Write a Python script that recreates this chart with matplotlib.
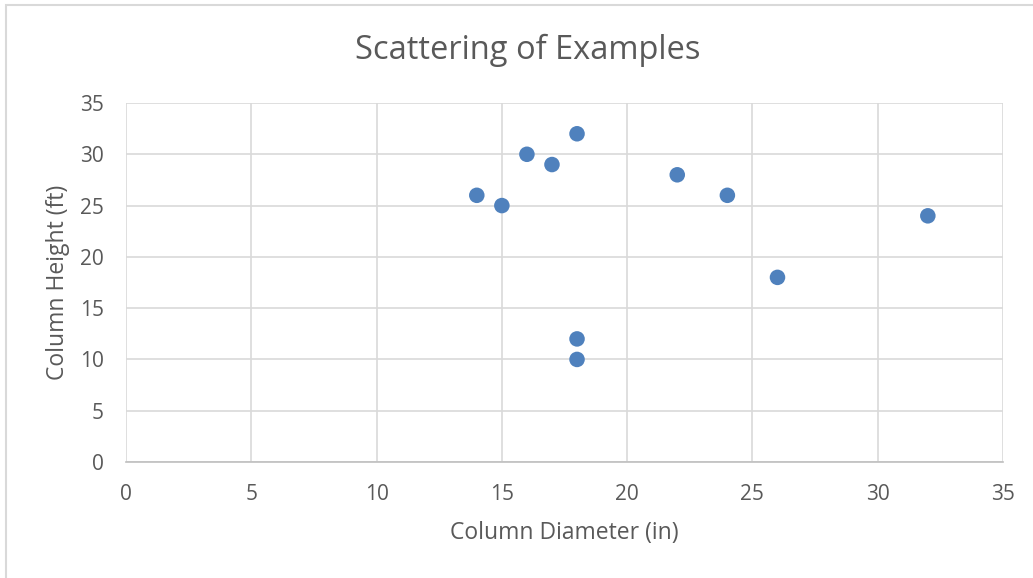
import matplotlib.pyplot as plt
from matplotlib.patches import Rectangle

diameter_in = [14, 15, 16, 17, 18, 18, 18, 22, 24, 26, 32]
height_ft = [26, 25, 30, 29, 32, 12, 10, 28, 26, 18, 24]
x_ticks = [0, 5, 10, 15, 20, 25, 30, 35]
y_ticks = [0, 5, 10, 15, 20, 25, 30, 35]

plt.rcParams['font.family'] = ['Open Sans', 'DejaVu Sans']
text_color = '#595959'
grid_color = '#d9d9d9'

fig = plt.figure(figsize=(10.33, 5.78), dpi=100)
ax = fig.add_axes([126 / 1033, 1 - 462 / 578, 877 / 1033, 359 / 578])

# light chart frame like the spreadsheet chart area
fig.patches.append(Rectangle((6 / 1033, -0.1), 1.2, 1 - 5 / 578 + 0.1,
                             transform=fig.transFigure, fill=False,
                             edgecolor='#d9d9d9', linewidth=1.5))

ax.scatter(diameter_in, height_ft, s=125, color='#4f81bd', zorder=3,
           edgecolors='none')

ax.set_xlim(0, 35)
ax.set_ylim(0, 35)
ax.set_xticks(x_ticks)
ax.set_yticks(y_ticks)
ax.grid(True, color=grid_color, linewidth=1.2)
ax.set_axisbelow(True)
for side in ['top', 'right', 'left']:
    ax.spines[side].set_visible(False)
ax.spines['bottom'].set_color('#bfbfbf')
ax.spines['bottom'].set_linewidth(1.2)
ax.tick_params(length=0, labelsize=15, colors=text_color)
ax.tick_params(axis='x', pad=16)
ax.tick_params(axis='y', pad=16)

ax.set_xlabel('Column Diameter (in)', fontsize=16.5, color=text_color)
ax.set_ylabel('Column Height (ft)', fontsize=16.5, color=text_color)
ax.xaxis.set_label_coords(0.5, (462 - 533) / 359)
ax.xaxis.label.set(va='center')
ax.yaxis.set_label_coords((58 - 126) / 877, 0.5)
ax.yaxis.label.set(va='center', ha='center', rotation_mode='default')

fig.text(528 / 1033, 1 - 50 / 578, 'Scattering of Examples', fontsize=23.5,
         color=text_color, ha='center', va='center')

fig.savefig('out.png', dpi=100)
